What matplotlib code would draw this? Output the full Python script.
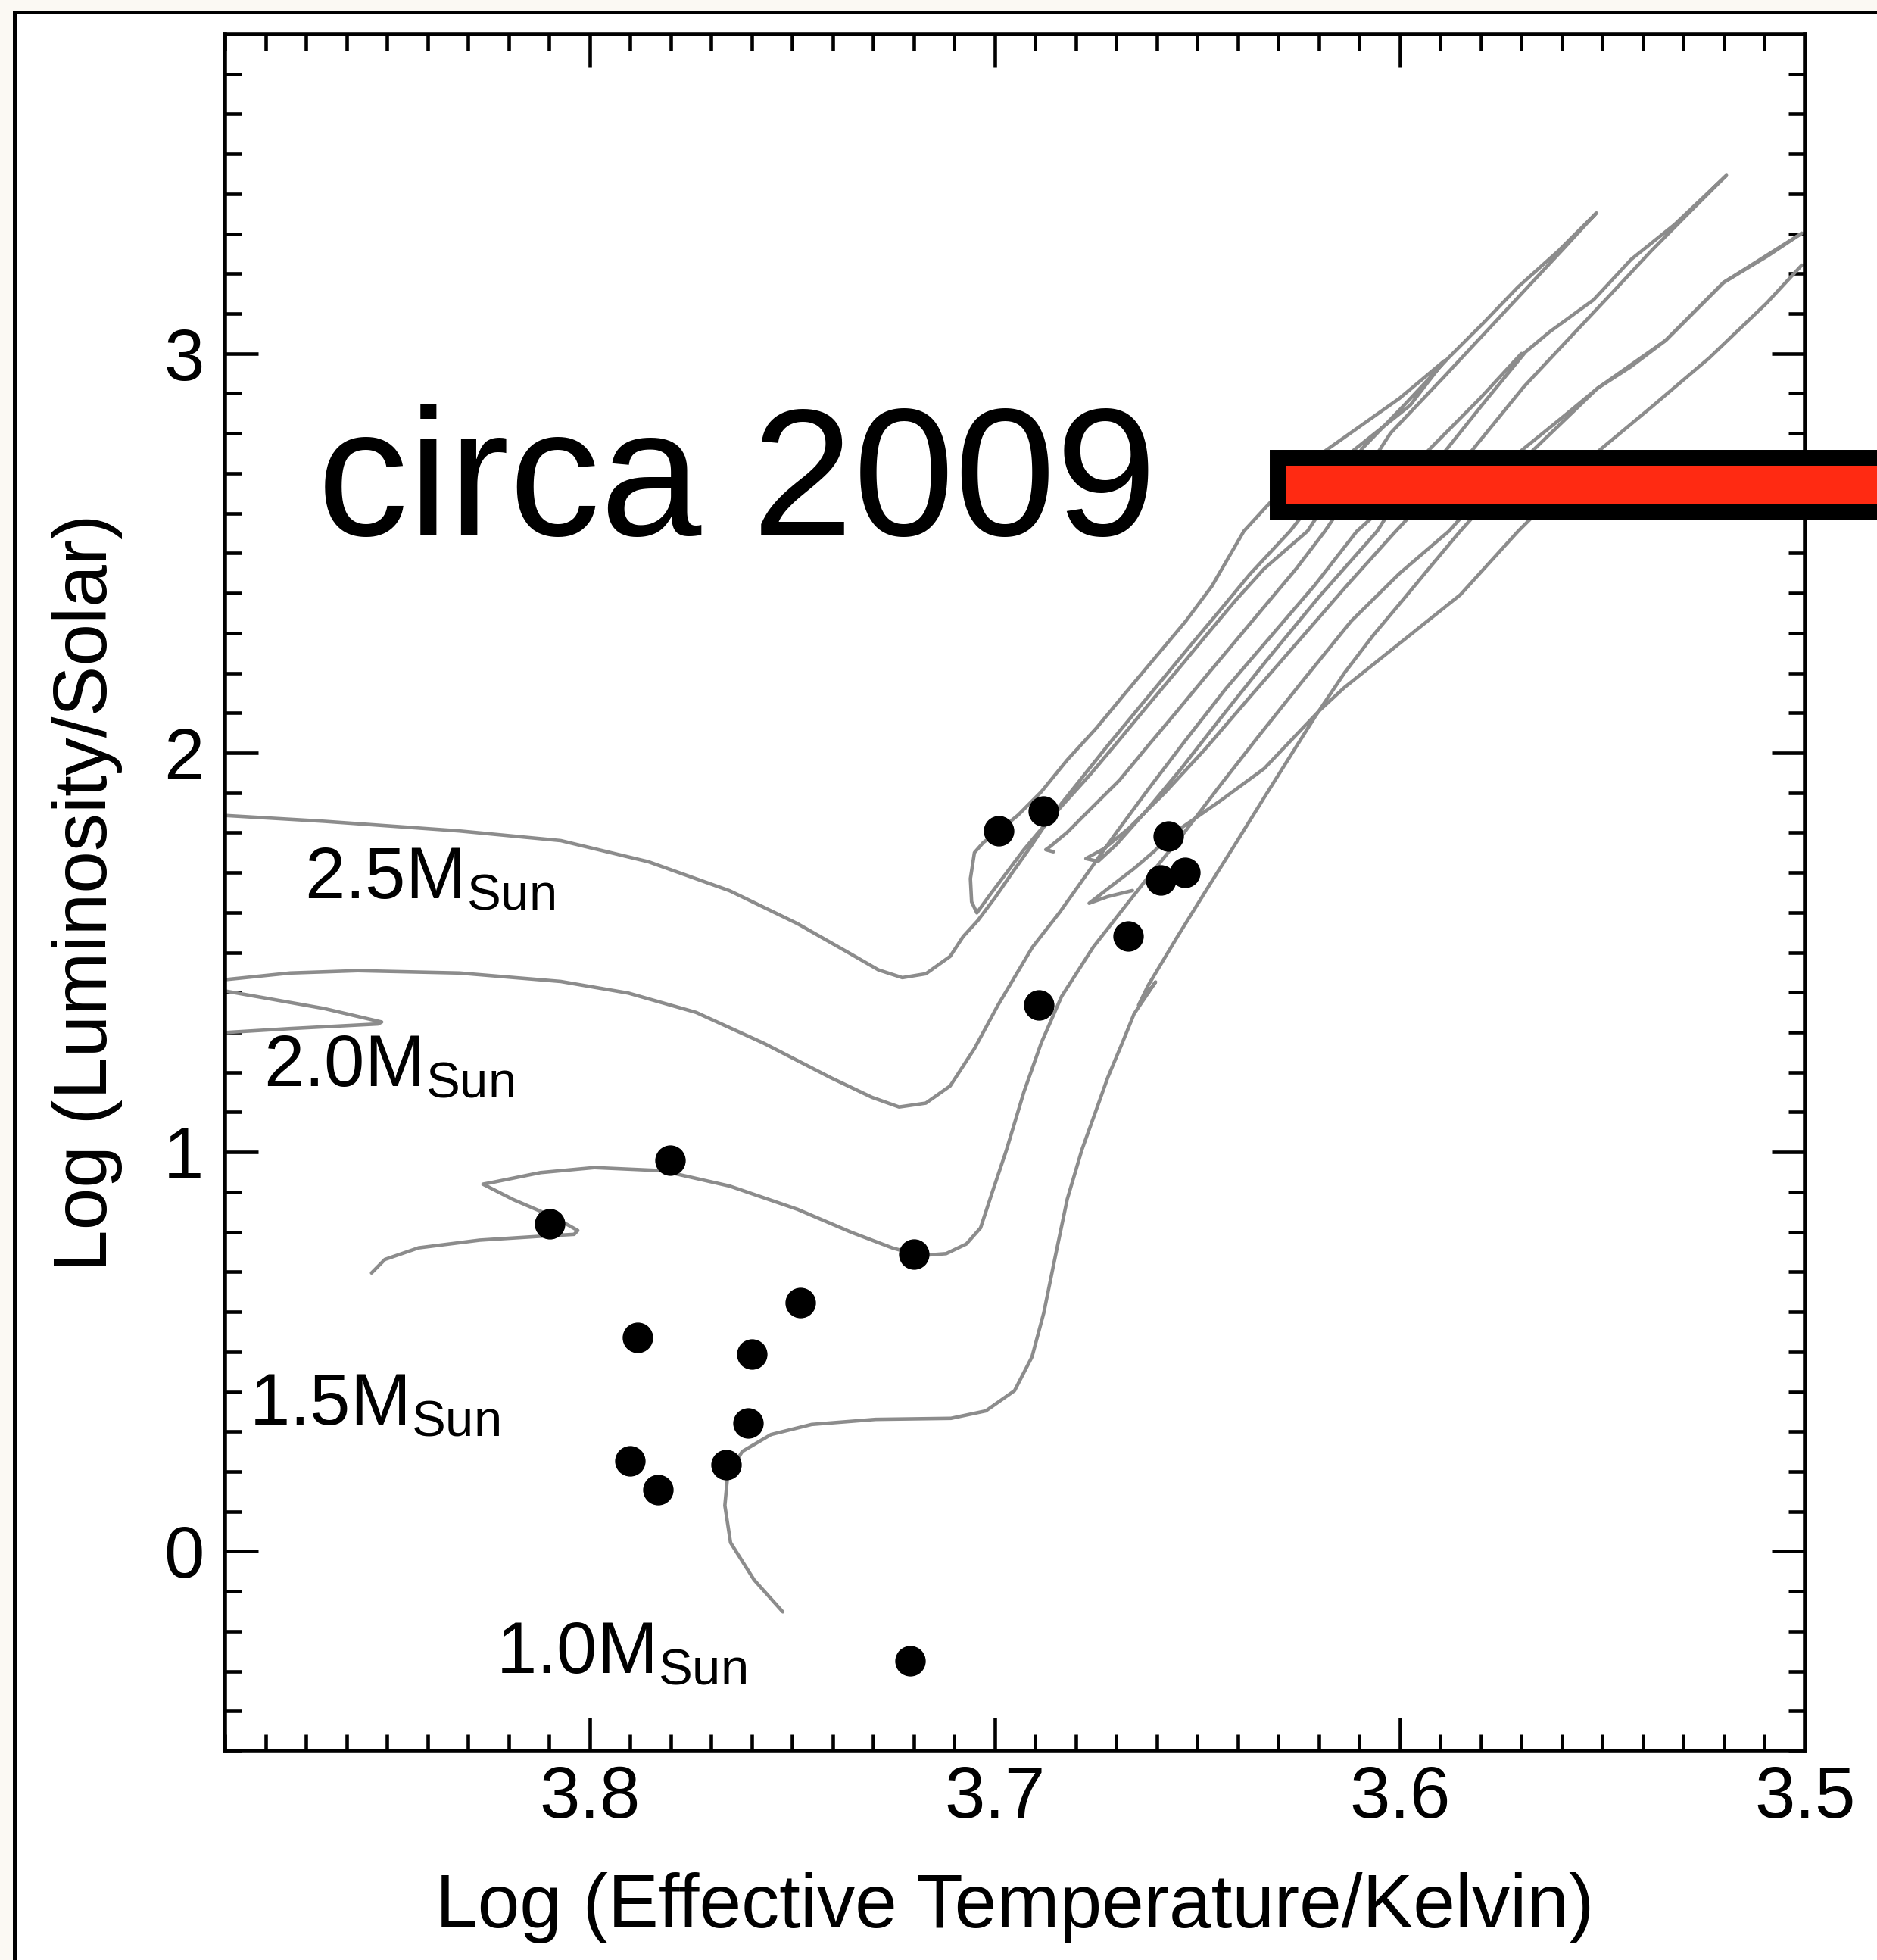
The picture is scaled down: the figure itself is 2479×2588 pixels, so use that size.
import matplotlib.pyplot as plt
import matplotlib.patheffects as pe
from matplotlib.patches import Rectangle
from matplotlib.ticker import MultipleLocator

# evolutionary tracks, log Teff / log L
t25 = [3.8897, 3.8655, 3.8321, 3.8071, 3.7854, 3.7654, 3.7487, 3.7353, 3.7287, 3.7228, 3.7170, 3.7110,
       3.7078, 3.7042, 3.6999, 3.6957, 3.6914, 3.6878, 3.6835, 3.6778, 3.6721, 3.6656, 3.6585, 3.6514,
       3.6442, 3.6371, 3.6271, 3.6190, 3.6115, 3.5975, 3.5890,
       3.6001, 3.6183, 3.6290, 3.6385, 3.6464, 3.6528, 3.6606, 3.6678, 3.6749, 3.6821, 3.6885, 3.6942,
       3.6990, 3.7028, 3.7050, 3.7060, 3.7057, 3.7044,
       3.7014, 3.6971, 3.6928, 3.6892, 3.6835, 3.6764, 3.6692, 3.6621, 3.6549, 3.6478, 3.6406, 3.6335,
       3.6228, 3.6094, 3.5987, 3.5880, 3.5794, 3.5708, 3.5608, 3.5515,
       3.5594, 3.5694, 3.5794, 3.5894, 3.6023, 3.6051, 3.6185, 3.6256, 3.6328, 3.6406, 3.6478, 3.6549,
       3.6621, 3.6692, 3.6764, 3.6821, 3.6864, 3.6874, 3.6855]
l25 = [1.8429, 1.8284, 1.8042, 1.7800, 1.7269, 1.6544, 1.5722, 1.4948, 1.4562, 1.4368, 1.4465, 1.4900,
       1.5396, 1.5795, 1.6376, 1.6992, 1.7609, 1.8153, 1.8733, 1.9459, 2.0184, 2.0982, 2.1852, 2.2723,
       2.3593, 2.4464, 2.5552, 2.6600, 2.7570, 2.8700, 2.9820,
       2.8877, 2.7570, 2.6600, 2.5552, 2.4174, 2.3303, 2.2360, 2.1490, 2.0619, 1.9821, 1.9023, 1.8443,
       1.8044, 1.7754, 1.7500, 1.6847, 1.6267, 1.5991,
       1.6412, 1.6992, 1.7573, 1.8008, 1.8661, 1.9459, 2.0329, 2.1200, 2.2070, 2.2941, 2.3811, 2.4609,
       2.5552, 2.7608, 2.8732, 2.9893, 3.0764, 3.1670, 3.2577, 3.3520,
       3.2649, 3.1561, 3.0473, 2.9385, 2.8007, 2.7572, 2.5552, 2.4609, 2.3739, 2.2795, 2.1925, 2.1054,
       2.0184, 1.9314, 1.8588, 1.8008, 1.7645, 1.7573, 1.7520]

t20_hook = [3.8897, 3.8739, 3.8522, 3.8513, 3.8655, 3.8789, 3.8897]
l20_hook = [1.2995, 1.3092, 1.3208, 1.3257, 1.3595, 1.3837, 1.4030]

t20 = [3.8897, 3.8739, 3.8572, 3.8321, 3.8071, 3.7904, 3.7737, 3.7570, 3.7403, 3.7303, 3.7236, 3.7170,
       3.7110, 3.7050, 3.6992, 3.6907, 3.6840, 3.6770, 3.6700, 3.6620, 3.6530, 3.6430, 3.6320, 3.6210,
       3.6106, 3.5990, 3.5887, 3.5790, 3.5690, 3.5630, 3.5522, 3.5429, 3.5322, 3.5194,
       3.5287, 3.5379, 3.5479, 3.5580, 3.5694, 3.5822, 3.6010, 3.6130, 3.6250, 3.6370, 3.6480, 3.6580,
       3.6670, 3.6730, 3.6775, 3.6745,
       3.6700, 3.6630, 3.6540, 3.6440, 3.6330, 3.6200, 3.6056, 3.5930, 3.5800, 3.5700]
l20 = [1.4320, 1.4484, 1.4542, 1.4484, 1.4272, 1.3981, 1.3498, 1.2725, 1.1855, 1.1371, 1.1129, 1.1226,
       1.1655, 1.2591, 1.3679, 1.5130, 1.6000, 1.7000, 1.8000, 1.9100, 2.0300, 2.1600, 2.2900, 2.4200,
       2.5552, 2.6600, 2.7570, 2.8800, 3.0038, 3.0546, 3.1344, 3.2359, 3.3230, 3.4463,
       3.3520, 3.2577, 3.1489, 3.0401, 2.9168, 2.7572, 2.5552, 2.4200, 2.2800, 2.1400, 2.0100, 1.9000,
       1.8100, 1.7600, 1.7350, 1.7280,
       1.7700, 1.8500, 1.9600, 2.0900, 2.2300, 2.3900, 2.5552, 2.7570, 2.8900, 3.0000]

t15 = [3.8538, 3.8505, 3.8422, 3.8271, 3.8121, 3.8038, 3.8029, 3.8088, 3.8188, 3.8263, 3.8238, 3.8121,
       3.7988, 3.7821, 3.7654, 3.7487, 3.7353, 3.7253, 3.7186, 3.7120, 3.7070, 3.7035, 3.7007, 3.6971,
       3.6928, 3.6885, 3.6835, 3.6757, 3.6690, 3.6620, 3.6540, 3.6450, 3.6350, 3.6240, 3.6120, 3.6000,
       3.5879, 3.5700, 3.5594, 3.5512, 3.5429, 3.5344, 3.5201, 3.5094, 3.5008]
l15 = [0.6973, 0.7311, 0.7601, 0.7794, 0.7891, 0.7939, 0.8036, 0.8374, 0.8809, 0.9196, 0.9244, 0.9486,
       0.9611, 0.9534, 0.9148, 0.8567, 0.7987, 0.7601, 0.7408, 0.7456, 0.7698, 0.8100, 0.8964, 1.0052,
       1.1503, 1.2736, 1.3897, 1.5130, 1.6000, 1.6900, 1.7900, 1.9100, 2.0400, 2.1800, 2.3300, 2.4500,
       2.5552, 2.7570, 2.8442, 2.9131, 2.9675, 3.0328, 3.1779, 3.2432, 3.3012]

t15_clump = [3.6660, 3.6721, 3.6767, 3.6721, 3.6656, 3.6606, 3.6571, 3.6514, 3.6442, 3.6335, 3.6199,
             3.6137, 3.5994, 3.5851, 3.5708, 3.5508, 3.5379, 3.5236, 3.5094, 3.5008]
l15_clump = [1.6550, 1.6398, 1.6231, 1.6594, 1.7101, 1.7536, 1.7899, 1.8298, 1.8806, 1.9604, 2.1054,
             2.1635, 2.2796, 2.3956, 2.5552, 2.7572, 2.8660, 2.9893, 3.1271, 3.2214]

t10 = [3.7523, 3.7594, 3.7652, 3.7666, 3.7659, 3.7623, 3.7552, 3.7452, 3.7294, 3.7108, 3.7022, 3.6951,
       3.6908, 3.6879, 3.6850, 3.6821, 3.6785, 3.6749, 3.6721, 3.6685, 3.6656, 3.6603, 3.6645, 3.6621,
       3.6549, 3.6478, 3.6406, 3.6335, 3.6263, 3.6209, 3.6137, 3.6066, 3.5994, 3.5923, 3.5851, 3.5672,
       3.5512, 3.5344, 3.5201, 3.5008]
l10 = [-0.1516, -0.0713, 0.0218, 0.1148, 0.1914, 0.2501, 0.2926, 0.3178, 0.3305, 0.3331, 0.3517, 0.4025,
       0.4870, 0.5969, 0.7410, 0.8819, 1.0052, 1.1068, 1.1866, 1.2736, 1.3462, 1.4260, 1.3680, 1.4178,
       1.5396, 1.6557, 1.7718, 1.8878, 2.0039, 2.0909, 2.1998, 2.2941, 2.3811, 2.4682, 2.5552, 2.7570,
       2.9131, 3.0328, 3.1779, 3.3012]

# observed stars
star_teff = [3.6990, 3.6880, 3.6571, 3.6531, 3.6590, 3.6671, 3.6891, 3.7801, 3.8099, 3.7200, 3.7480,
             3.7881, 3.7599, 3.7609, 3.7901, 3.7662, 3.7831, 3.7208]
star_lum = [1.8044, 1.8530, 1.7914, 1.7007, 1.6811, 1.5418, 1.3679, 0.9797, 0.8209, 0.7436, 0.6235,
            0.5353, 0.4931, 0.3222, 0.2274, 0.2179, 0.1546, -0.2744]

mass_labels = ['2.5', '2.0', '1.5', '1.0']
label_teff = [3.8703, 3.8804, 3.8841, 3.8231]
label_lum = [1.636, 1.165, 0.317, -0.305]

xticks = [3.8, 3.7, 3.6, 3.5]
xticklabels = ['3.8', '3.7', '3.6', '3.5']
yticks = [0, 1, 2, 3]
yticklabels = ['0', '1', '2', '3']

plt.rcParams['font.family'] = ['Liberation Sans', 'DejaVu Sans']
plt.rcParams['mathtext.fontset'] = 'custom'
plt.rcParams['mathtext.rm'] = 'Liberation Sans'
plt.rcParams['mathtext.it'] = 'Liberation Sans:italic'
plt.rcParams['mathtext.bf'] = 'Liberation Sans:bold'

W, H = 2479, 2588
fig = plt.figure(figsize=(W / 100, H / 100), dpi=100, facecolor='#fbf9f3')

# slide frame
fig.patches.append(Rectangle((18.5 / W, -0.2), 1.5, 1.2 - 15.5 / H, transform=fig.transFigure,
                             facecolor='white', edgecolor='black', lw=3.6, zorder=-5))

ax = fig.add_axes([297 / W, 1 - 2312 / H, (2384 - 297) / W, (2312 - 45) / H])
ax.set_facecolor('white')

gray = '#8c8c8c'
for tx, ly in [(t25, l25), (t20_hook, l20_hook), (t20, l20), (t15, l15),
               (t15_clump, l15_clump), (t10, l10)]:
    ax.plot(tx, ly, color=gray, lw=3.3, solid_joinstyle='round', solid_capstyle='round', zorder=2)

ax.plot(star_teff, star_lum, 'o', ms=28, color='black', mec='black', zorder=3)

for m, x, y in zip(mass_labels, label_teff, label_lum):
    ax.text(x, y, m + r'M$_{\mathrm{Sun}}$', fontsize=69, ha='left', va='baseline', zorder=4)

ax.set_xlim(3.89, 3.5)
ax.set_ylim(-0.5, 3.8)
ax.set_xticks(xticks)
ax.set_xticklabels(xticklabels)
ax.set_yticks(yticks)
ax.set_yticklabels(yticklabels)
ax.xaxis.set_minor_locator(MultipleLocator(0.01))
ax.yaxis.set_minor_locator(MultipleLocator(0.1))
ax.tick_params(which='both', direction='in', top=True, right=True, width=3.3, labelsize=69)
ax.tick_params(which='major', length=32)
ax.tick_params(which='minor', length=16)
ax.tick_params(axis='x', pad=13)
ax.tick_params(axis='y', pad=20)
for s in ax.spines.values():
    s.set_linewidth(4)

ax.set_xlabel('Log (Effective Temperature/Kelvin)', fontsize=72, va='baseline')
ax.xaxis.set_label_coords(0.5, (2312 - 2545) / 2267)
ax.set_ylabel('Log (Luminosity/Solar)', fontsize=72, va='baseline')
ax.yaxis.set_label_coords((141 - 297) / 2087, 0.5)

fig.text(419 / W, 1 - 707 / H, 'circa 2009', fontsize=173, ha='left', va='baseline')

# red marker bar running off the right edge
bar = Rectangle((1686.5 / W, 1 - 675.5 / H), 0.5, 71 / H, transform=fig.transFigure,
                facecolor='#ff2a12', edgecolor='black', lw=15.1, joinstyle='miter', zorder=6)
bar.set_path_effects([pe.SimplePatchShadow(offset=(0, -4), shadow_rgbFace='#777777', alpha=0.35),
                      pe.Normal()])
fig.patches.append(bar)

fig.savefig('out.png', dpi=100, facecolor=fig.get_facecolor())
